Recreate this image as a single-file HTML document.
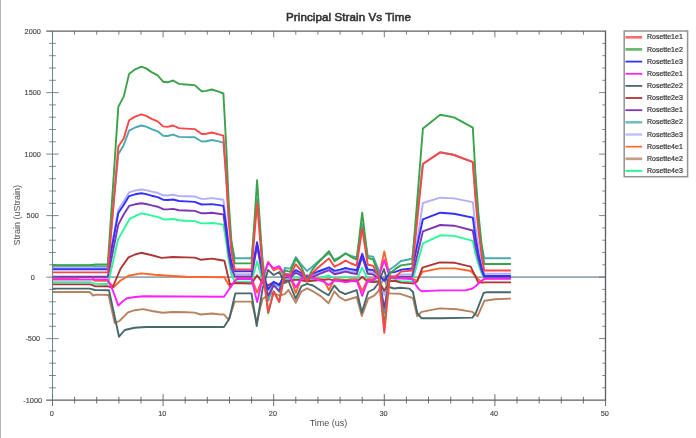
<!DOCTYPE html>
<html><head><meta charset="utf-8"><title>Principal Strain Vs Time</title>
<style>
html,body{margin:0;padding:0;background:#fff;}
body{width:696px;height:438px;overflow:hidden;font-family:"Liberation Sans",sans-serif;}
svg{display:block;filter:blur(0.7px);}
text{font-family:"Liberation Sans",sans-serif;fill:#333;}
.tk{font-size:7.3px;fill:#484848;stroke:#484848;stroke-width:0.15px;}
.lg{font-size:7px;fill:#303030;stroke:#303030;stroke-width:0.2px;}
.ttl{font-size:11.6px;fill:#333;stroke:#333;stroke-width:0.6px;letter-spacing:0.08px;}
.al{font-size:9px;fill:#505050;}
.curves polyline{fill:none;stroke-width:1.9;stroke-linejoin:round;stroke-linecap:butt;}
.ticks line{stroke:#687478;stroke-width:0.85;}
</style></head><body>
<svg width="696" height="438" viewBox="0 0 696 438">
<rect x="0" y="0" width="696" height="438" fill="#ffffff"/>
<rect x="0" y="0" width="1.0" height="438" fill="#b4b4b4"/>
<text x="348.5" y="21.2" text-anchor="middle" class="ttl">Principal Strain Vs Time</text>
<line x1="52.5" y1="277.1" x2="605.5" y2="277.1" stroke="#98a7af" stroke-width="1.9"/>
<g class="curves">
<polyline points="52.5,282.2 90.1,282.2 95.6,283.9 107.7,284.0 109.2,279.0 118.0,239.5 129.7,218.8 136.8,215.4 141.4,213.4 146.1,214.2 151.6,215.6 157.6,216.9 163.1,219.2 167.5,219.5 173.1,219.0 178.9,220.3 185.7,220.7 194.7,221.1 201.6,223.4 206.2,223.4 211.8,223.0 218.7,223.9 223.4,224.6 226.4,243.5 228.6,260.4 231.3,273.9 234.7,281.8 251.6,281.8 257.1,261.2 262.6,281.4 268.2,289.4 273.7,283.9 279.2,286.9 284.8,279.5 290.3,280.1 295.8,277.0 301.4,278.9 306.9,281.9 312.4,279.7 317.9,278.5 323.5,277.0 329.0,275.5 334.5,278.5 340.1,278.0 345.6,277.1 351.1,278.2 356.7,279.1 362.2,267.6 367.7,279.0 373.2,279.6 378.8,281.4 384.3,293.3 389.8,280.7 395.4,280.0 400.9,281.1 412.2,281.7 422.9,243.4 440.2,235.3 454.0,235.9 472.8,240.9 475.5,253.7 478.3,264.0 481.6,273.2 484.2,278.4 510.9,278.4" stroke="#2cf79a"/>
<polyline points="52.4,292.0 89.5,292.0 93.0,295.5 96.5,294.6 108.6,295.0 114.7,323.1 119.4,321.0 128.0,312.3 135.0,310.2 143.1,309.1 152.0,311.0 162.5,312.8 173.0,312.0 186.2,312.3 194.7,312.6 200.5,314.5 212.0,313.5 218.7,314.2 224.0,314.5 228.7,319.9 234.7,301.6 251.5,301.6 256.7,322.0 262.5,299.0 268.0,295.0 273.6,293.0 279.3,295.5 284.8,294.2 288.5,290.0 295.7,302.8 301.5,291.3 307.2,288.4 313.0,291.3 321.0,296.4 328.5,303.3 334.3,291.3 339.4,297.0 345.2,300.5 356.7,297.0 361.8,316.0 368.2,298.7 374.2,295.7 378.5,291.0 383.9,277.0 389.0,293.4 394.0,293.6 400.0,293.8 410.3,297.2 413.0,298.2 417.2,316.2 421.6,311.9 439.7,308.4 457.0,309.3 472.4,311.9 477.6,316.2 484.5,300.7 495.0,299.2 510.9,298.6" stroke="#b68260"/>
<polyline points="52.5,278.9 77.4,278.9 79.0,277.0 92.3,277.0 94.5,280.8 107.2,280.8 113.7,287.0 120.5,280.5 128.5,275.7 141.0,273.4 155.0,274.8 168.5,275.7 186.0,276.8 224.4,277.3 227.2,282.2 230.4,287.5 234.7,281.0 237.0,278.4 251.6,278.1 257.1,292.6 262.6,278.0 268.2,261.7 273.7,270.4 279.2,268.0 284.8,276.8 290.3,277.3 295.8,293.0 301.4,278.2 306.9,275.9 312.4,277.7 317.9,278.8 323.5,279.8 329.0,290.1 334.5,279.0 340.1,279.6 345.6,280.3 351.1,279.6 356.7,279.1 362.2,290.9 367.7,279.3 373.2,279.0 378.8,276.7 384.3,251.4 389.8,277.0 395.4,277.7 400.9,278.0 411.0,278.3 417.2,280.6 422.4,271.9 439.7,268.4 455.0,268.4 470.7,271.0 476.7,277.0 481.0,282.0 484.5,278.6 510.9,278.1" stroke="#ff6428"/>
<polyline points="52.5,267.3 90.1,267.3 95.6,267.3 107.8,267.3 118.3,209.7 123.8,201.2 129.1,192.3 135.1,190.5 141.4,189.5 146.1,190.1 151.6,191.6 157.6,192.8 163.1,195.3 167.5,195.5 173.1,194.8 178.9,196.1 185.7,196.3 194.7,196.5 201.6,198.9 206.2,198.7 211.8,198.1 218.7,199.0 223.4,199.7 226.4,224.3 228.6,246.2 231.3,263.8 234.7,274.1 251.6,274.1 257.1,245.1 262.6,274.4 268.2,290.4 273.7,282.8 279.2,286.4 284.8,275.6 290.3,276.2 295.8,271.7 301.4,274.5 306.9,279.1 312.4,275.5 317.9,273.2 323.5,271.2 329.0,269.1 334.5,272.7 340.1,271.6 345.6,270.1 351.1,271.4 356.7,272.4 362.2,256.1 367.7,271.9 373.2,272.5 378.8,277.4 384.3,294.9 389.8,276.8 395.4,275.3 400.9,274.5 412.2,274.2 422.9,203.0 440.2,197.7 454.0,198.4 472.8,202.1 475.5,226.7 478.3,246.4 481.6,263.9 484.2,273.8 510.9,273.8" stroke="#b0b0ff"/>
<polyline points="52.5,265.5 90.1,265.5 95.6,266.1 107.8,266.1 118.3,154.2 123.8,144.9 129.1,130.7 135.1,127.5 141.4,125.5 146.1,126.6 151.6,129.2 157.6,131.3 163.1,135.7 167.5,136.0 173.1,134.6 178.9,136.9 185.7,137.1 194.7,137.3 201.6,141.5 206.2,141.2 211.8,140.0 218.7,141.4 223.4,142.6 226.4,180.8 228.6,214.9 231.3,242.2 234.7,258.2 251.6,258.2 257.1,199.2 262.6,260.1 268.2,300.9 273.7,284.2 279.2,292.0 284.8,268.0 290.3,268.6 295.8,257.1 301.4,264.7 306.9,270.9 312.4,266.8 317.9,261.8 323.5,257.3 329.0,253.1 334.5,259.9 340.1,256.9 345.6,253.6 351.1,255.9 356.7,257.5 362.2,224.0 367.7,255.9 373.2,256.8 378.8,270.0 384.3,313.2 389.8,269.5 395.4,265.8 400.9,261.0 412.2,258.8 422.9,163.7 440.2,152.2 454.0,154.8 472.8,161.9 475.5,195.0 478.3,221.4 481.6,245.0 484.2,258.3 510.9,258.3" stroke="#4aaab0"/>
<polyline points="52.5,276.8 90.1,276.8 95.6,276.8 107.8,276.8 118.3,224.6 123.8,214.3 129.1,205.9 135.1,204.3 141.4,203.2 146.1,204.0 151.6,205.4 157.6,206.7 163.1,209.2 167.5,209.4 173.1,208.9 178.9,210.2 185.7,210.5 194.7,210.9 201.6,213.3 206.2,213.2 211.8,212.8 218.7,213.7 223.4,214.4 226.4,235.0 228.6,253.3 231.3,267.9 234.7,276.5 251.6,276.5 257.1,245.6 262.6,276.6 268.2,295.5 273.7,285.3 279.2,290.9 284.8,277.4 290.3,277.6 295.8,272.8 301.4,275.7 306.9,280.5 312.4,276.8 317.9,274.6 323.5,272.4 329.0,270.2 334.5,274.2 340.1,273.0 345.6,271.6 351.1,273.0 356.7,274.1 362.2,256.8 367.7,273.7 373.2,274.4 378.8,279.0 384.3,307.9 389.8,278.3 395.4,276.8 400.9,276.6 412.2,276.6 422.9,231.4 440.2,225.0 454.0,225.7 472.8,230.5 475.5,246.4 478.3,259.1 481.6,270.4 484.2,276.8 510.9,276.8" stroke="#7e35b5"/>
<polyline points="52.5,284.4 90.1,284.4 95.6,286.4 107.7,286.3 112.6,287.5 120.5,268.8 128.5,257.4 135.0,254.5 141.0,252.8 151.0,255.0 161.6,257.9 173.0,257.0 186.0,257.4 194.7,257.6 200.5,259.7 212.0,258.6 218.7,259.8 224.4,260.8 230.0,284.8 234.7,283.0 251.6,283.5 257.1,275.3 262.6,282.9 268.2,285.3 273.7,282.2 279.2,284.3 284.8,280.6 290.3,280.7 295.8,279.6 301.4,280.2 306.9,281.3 312.4,280.7 317.9,280.4 323.5,279.8 329.0,279.2 334.5,280.6 340.1,280.6 345.6,280.4 351.1,281.0 356.7,281.4 362.2,277.0 367.7,281.6 373.2,282.0 378.8,281.6 384.3,290.8 389.8,281.1 395.4,281.0 400.9,282.6 412.2,283.4 413.0,283.6 417.2,281.4 422.4,267.6 439.7,262.4 455.0,262.8 470.7,266.7 478.2,282.4 483.0,282.6 484.2,282.4 510.9,282.4" stroke="#ae3535"/>
<polyline points="52.4,288.6 89.5,288.6 95.0,290.0 109.0,290.3 119.0,336.7 124.8,330.0 134.5,327.8 146.3,327.0 224.0,327.0 229.3,318.8 235.3,293.4 251.5,293.4 256.7,326.0 262.5,289.0 268.0,270.0 273.6,275.0 279.3,272.0 284.8,283.0 288.5,281.0 295.7,298.7 301.5,286.1 307.2,283.8 313.0,285.5 321.0,290.7 328.5,295.3 334.3,285.5 339.4,291.3 345.2,294.1 356.7,290.1 361.8,312.5 368.2,292.0 374.0,289.0 378.5,283.0 383.9,269.0 389.0,287.0 394.0,288.5 400.0,287.8 409.5,288.6 413.0,292.0 417.2,312.8 421.6,318.3 440.0,318.3 472.4,317.6 475.9,312.8 483.6,293.0 487.0,292.2 510.9,292.2" stroke="#47696c"/>
<polyline points="52.5,279.5 90.1,279.5 95.6,279.5 107.7,279.4 113.0,291.0 118.3,305.6 122.5,301.5 127.0,298.3 135.0,297.0 143.0,296.3 224.0,296.8 231.3,286.0 234.7,281.0 237.5,279.0 251.6,278.9 257.1,302.1 262.6,278.7 268.2,262.9 273.7,268.5 279.2,266.2 284.8,274.3 290.3,277.5 295.8,287.2 301.4,278.9 306.9,275.2 312.4,278.1 317.9,279.8 323.5,281.5 329.0,285.0 334.5,280.2 340.1,281.1 345.6,282.3 351.1,281.2 356.7,280.4 362.2,295.8 367.7,280.8 373.2,280.3 378.8,276.5 384.3,260.1 389.8,277.0 395.4,278.2 400.9,278.6 412.0,279.0 417.2,286.9 419.5,290.0 422.4,291.3 440.0,290.4 465.5,290.4 472.4,288.5 476.0,286.0 480.2,281.7 484.0,279.0 484.2,278.9 510.9,278.9" stroke="#ff20ff"/>
<polyline points="52.5,269.2 90.1,269.2 95.6,269.2 107.8,269.2 118.3,213.0 123.8,204.7 129.1,196.1 135.1,194.3 141.4,193.3 146.1,194.1 151.6,195.7 157.6,197.1 163.1,199.7 167.5,200.0 173.1,199.5 178.9,201.0 185.7,201.4 194.7,201.9 201.6,204.5 206.2,204.4 211.8,204.1 218.7,205.1 223.4,205.9 226.4,227.5 228.6,246.8 231.3,262.2 234.7,271.2 251.6,271.2 257.1,242.3 262.6,271.8 268.2,289.3 273.7,281.7 279.2,285.2 284.8,274.2 290.3,274.7 295.8,270.1 301.4,273.0 306.9,277.6 312.4,273.9 317.9,271.5 323.5,269.5 329.0,267.4 334.5,270.9 340.1,269.6 345.6,268.0 351.1,269.3 356.7,270.2 362.2,253.8 367.7,269.5 373.2,270.1 378.8,275.3 384.3,280.8 389.8,272.8 395.4,271.9 400.9,269.8 412.2,268.5 422.9,219.3 440.2,212.7 454.0,213.8 472.8,217.6 475.5,237.7 478.3,253.7 481.6,267.9 484.2,276.0 510.9,276.0" stroke="#3030ff"/>
<polyline points="52.5,265.2 90.1,265.2 95.6,264.4 107.8,264.4 118.3,106.9 123.8,96.4 129.1,73.9 135.1,69.3 141.4,66.6 146.1,68.4 151.6,72.1 157.6,75.3 163.1,81.7 167.5,82.3 173.1,80.5 178.9,83.9 185.7,84.5 194.7,85.1 201.6,91.3 206.2,90.9 211.8,89.5 218.7,91.7 223.4,93.5 226.4,149.7 228.6,199.7 231.3,239.8 234.7,263.4 251.6,263.4 257.1,180.3 262.6,264.8 268.2,313.2 273.7,291.4 279.2,301.6 284.8,270.3 290.3,271.9 295.8,258.7 301.4,267.0 306.9,280.2 312.4,269.6 317.9,263.0 323.5,257.0 329.0,251.1 334.5,261.3 340.1,257.6 345.6,253.3 351.1,256.9 356.7,259.6 362.2,212.7 367.7,257.9 373.2,259.5 378.8,274.8 384.3,325.6 389.8,273.5 395.4,268.9 400.9,265.4 412.2,263.8 422.9,128.6 440.2,114.8 454.0,117.4 472.8,127.7 475.5,174.5 478.3,211.9 481.6,245.1 484.2,264.0 510.9,264.0" stroke="#3aa34a"/>
<polyline points="52.5,272.4 90.1,272.4 95.6,272.4 107.8,272.4 118.3,146.6 123.8,138.3 129.1,120.3 135.1,116.6 141.4,114.4 146.1,115.8 151.6,118.8 157.6,121.4 163.1,126.4 167.5,126.9 173.1,125.5 178.9,128.1 185.7,128.6 194.7,129.1 201.6,134.0 206.2,133.7 211.8,132.5 218.7,134.3 223.4,135.7 226.4,179.9 228.6,219.4 231.3,251.0 234.7,269.5 251.6,269.5 257.1,203.2 262.6,270.3 268.2,311.9 273.7,291.4 279.2,302.0 284.8,274.1 290.3,274.7 295.8,264.3 301.4,270.8 306.9,281.2 312.4,273.0 317.9,267.8 323.5,263.1 329.0,258.4 334.5,266.7 340.1,263.9 345.6,260.6 351.1,263.5 356.7,265.7 362.2,228.4 367.7,264.5 373.2,265.9 378.8,277.3 384.3,332.9 389.8,276.1 395.4,276.9 400.9,271.6 412.2,270.6 422.9,164.0 440.2,152.4 454.0,155.0 472.8,162.1 475.5,199.3 478.3,229.1 481.6,255.5 484.2,270.5 510.9,270.5" stroke="#ff4545"/>
</g>
<g class="ticks"><line x1="52.5" y1="394.1" x2="52.5" y2="406.1" style="stroke:#565656"/><line x1="52.5" y1="31.1" x2="52.5" y2="37.3" style="stroke:#606468"/><line x1="74.6" y1="396.8" x2="74.6" y2="403.5" style="stroke:#565656"/><line x1="74.6" y1="31.1" x2="74.6" y2="34.7" style="stroke:#606468"/><line x1="96.7" y1="396.8" x2="96.7" y2="403.5" style="stroke:#565656"/><line x1="96.7" y1="31.1" x2="96.7" y2="34.7" style="stroke:#606468"/><line x1="118.9" y1="396.8" x2="118.9" y2="403.5" style="stroke:#565656"/><line x1="118.9" y1="31.1" x2="118.9" y2="34.7" style="stroke:#606468"/><line x1="141.0" y1="396.8" x2="141.0" y2="403.5" style="stroke:#565656"/><line x1="141.0" y1="31.1" x2="141.0" y2="34.7" style="stroke:#606468"/><line x1="163.1" y1="394.1" x2="163.1" y2="406.1" style="stroke:#565656"/><line x1="163.1" y1="31.1" x2="163.1" y2="37.3" style="stroke:#606468"/><line x1="185.2" y1="396.8" x2="185.2" y2="403.5" style="stroke:#565656"/><line x1="185.2" y1="31.1" x2="185.2" y2="34.7" style="stroke:#606468"/><line x1="207.3" y1="396.8" x2="207.3" y2="403.5" style="stroke:#565656"/><line x1="207.3" y1="31.1" x2="207.3" y2="34.7" style="stroke:#606468"/><line x1="229.5" y1="396.8" x2="229.5" y2="403.5" style="stroke:#565656"/><line x1="229.5" y1="31.1" x2="229.5" y2="34.7" style="stroke:#606468"/><line x1="251.6" y1="396.8" x2="251.6" y2="403.5" style="stroke:#565656"/><line x1="251.6" y1="31.1" x2="251.6" y2="34.7" style="stroke:#606468"/><line x1="273.7" y1="394.1" x2="273.7" y2="406.1" style="stroke:#565656"/><line x1="273.7" y1="31.1" x2="273.7" y2="37.3" style="stroke:#606468"/><line x1="295.8" y1="396.8" x2="295.8" y2="403.5" style="stroke:#565656"/><line x1="295.8" y1="31.1" x2="295.8" y2="34.7" style="stroke:#606468"/><line x1="317.9" y1="396.8" x2="317.9" y2="403.5" style="stroke:#565656"/><line x1="317.9" y1="31.1" x2="317.9" y2="34.7" style="stroke:#606468"/><line x1="340.1" y1="396.8" x2="340.1" y2="403.5" style="stroke:#565656"/><line x1="340.1" y1="31.1" x2="340.1" y2="34.7" style="stroke:#606468"/><line x1="362.2" y1="396.8" x2="362.2" y2="403.5" style="stroke:#565656"/><line x1="362.2" y1="31.1" x2="362.2" y2="34.7" style="stroke:#606468"/><line x1="384.3" y1="394.1" x2="384.3" y2="406.1" style="stroke:#565656"/><line x1="384.3" y1="31.1" x2="384.3" y2="37.3" style="stroke:#606468"/><line x1="406.4" y1="396.8" x2="406.4" y2="403.5" style="stroke:#565656"/><line x1="406.4" y1="31.1" x2="406.4" y2="34.7" style="stroke:#606468"/><line x1="428.5" y1="396.8" x2="428.5" y2="403.5" style="stroke:#565656"/><line x1="428.5" y1="31.1" x2="428.5" y2="34.7" style="stroke:#606468"/><line x1="450.7" y1="396.8" x2="450.7" y2="403.5" style="stroke:#565656"/><line x1="450.7" y1="31.1" x2="450.7" y2="34.7" style="stroke:#606468"/><line x1="472.8" y1="396.8" x2="472.8" y2="403.5" style="stroke:#565656"/><line x1="472.8" y1="31.1" x2="472.8" y2="34.7" style="stroke:#606468"/><line x1="494.9" y1="394.1" x2="494.9" y2="406.1" style="stroke:#565656"/><line x1="494.9" y1="31.1" x2="494.9" y2="37.3" style="stroke:#606468"/><line x1="517.0" y1="396.8" x2="517.0" y2="403.5" style="stroke:#565656"/><line x1="517.0" y1="31.1" x2="517.0" y2="34.7" style="stroke:#606468"/><line x1="539.1" y1="396.8" x2="539.1" y2="403.5" style="stroke:#565656"/><line x1="539.1" y1="31.1" x2="539.1" y2="34.7" style="stroke:#606468"/><line x1="561.3" y1="396.8" x2="561.3" y2="403.5" style="stroke:#565656"/><line x1="561.3" y1="31.1" x2="561.3" y2="34.7" style="stroke:#606468"/><line x1="583.4" y1="396.8" x2="583.4" y2="403.5" style="stroke:#565656"/><line x1="583.4" y1="31.1" x2="583.4" y2="34.7" style="stroke:#606468"/><line x1="605.5" y1="394.1" x2="605.5" y2="406.1" style="stroke:#565656"/><line x1="605.5" y1="31.1" x2="605.5" y2="37.3" style="stroke:#606468"/><line x1="49.2" y1="387.8" x2="55.8" y2="387.8"/><line x1="602.3" y1="387.8" x2="605.5" y2="387.8"/><line x1="49.2" y1="375.5" x2="55.8" y2="375.5"/><line x1="602.3" y1="375.5" x2="605.5" y2="375.5"/><line x1="49.2" y1="363.2" x2="55.8" y2="363.2"/><line x1="602.3" y1="363.2" x2="605.5" y2="363.2"/><line x1="49.2" y1="350.9" x2="55.8" y2="350.9"/><line x1="602.3" y1="350.9" x2="605.5" y2="350.9"/><line x1="46.3" y1="338.6" x2="58.7" y2="338.6"/><line x1="599.0" y1="338.6" x2="605.5" y2="338.6"/><line x1="49.2" y1="326.3" x2="55.8" y2="326.3"/><line x1="602.3" y1="326.3" x2="605.5" y2="326.3"/><line x1="49.2" y1="314.0" x2="55.8" y2="314.0"/><line x1="602.3" y1="314.0" x2="605.5" y2="314.0"/><line x1="49.2" y1="301.8" x2="55.8" y2="301.8"/><line x1="602.3" y1="301.8" x2="605.5" y2="301.8"/><line x1="49.2" y1="289.4" x2="55.8" y2="289.4"/><line x1="602.3" y1="289.4" x2="605.5" y2="289.4"/><line x1="46.3" y1="277.1" x2="58.7" y2="277.1"/><line x1="599.0" y1="277.1" x2="605.5" y2="277.1"/><line x1="49.2" y1="264.8" x2="55.8" y2="264.8"/><line x1="602.3" y1="264.8" x2="605.5" y2="264.8"/><line x1="49.2" y1="252.5" x2="55.8" y2="252.5"/><line x1="602.3" y1="252.5" x2="605.5" y2="252.5"/><line x1="49.2" y1="240.2" x2="55.8" y2="240.2"/><line x1="602.3" y1="240.2" x2="605.5" y2="240.2"/><line x1="49.2" y1="227.9" x2="55.8" y2="227.9"/><line x1="602.3" y1="227.9" x2="605.5" y2="227.9"/><line x1="46.3" y1="215.6" x2="58.7" y2="215.6"/><line x1="599.0" y1="215.6" x2="605.5" y2="215.6"/><line x1="49.2" y1="203.3" x2="55.8" y2="203.3"/><line x1="602.3" y1="203.3" x2="605.5" y2="203.3"/><line x1="49.2" y1="191.0" x2="55.8" y2="191.0"/><line x1="602.3" y1="191.0" x2="605.5" y2="191.0"/><line x1="49.2" y1="178.7" x2="55.8" y2="178.7"/><line x1="602.3" y1="178.7" x2="605.5" y2="178.7"/><line x1="49.2" y1="166.4" x2="55.8" y2="166.4"/><line x1="602.3" y1="166.4" x2="605.5" y2="166.4"/><line x1="46.3" y1="154.1" x2="58.7" y2="154.1"/><line x1="599.0" y1="154.1" x2="605.5" y2="154.1"/><line x1="49.2" y1="141.8" x2="55.8" y2="141.8"/><line x1="602.3" y1="141.8" x2="605.5" y2="141.8"/><line x1="49.2" y1="129.5" x2="55.8" y2="129.5"/><line x1="602.3" y1="129.5" x2="605.5" y2="129.5"/><line x1="49.2" y1="117.2" x2="55.8" y2="117.2"/><line x1="602.3" y1="117.2" x2="605.5" y2="117.2"/><line x1="49.2" y1="104.9" x2="55.8" y2="104.9"/><line x1="602.3" y1="104.9" x2="605.5" y2="104.9"/><line x1="46.3" y1="92.6" x2="58.7" y2="92.6"/><line x1="599.0" y1="92.6" x2="605.5" y2="92.6"/><line x1="49.2" y1="80.3" x2="55.8" y2="80.3"/><line x1="602.3" y1="80.3" x2="605.5" y2="80.3"/><line x1="49.2" y1="68.0" x2="55.8" y2="68.0"/><line x1="602.3" y1="68.0" x2="605.5" y2="68.0"/><line x1="49.2" y1="55.7" x2="55.8" y2="55.7"/><line x1="602.3" y1="55.7" x2="605.5" y2="55.7"/><line x1="49.2" y1="43.4" x2="55.8" y2="43.4"/><line x1="602.3" y1="43.4" x2="605.5" y2="43.4"/></g>
<polyline points="46.2,31.1 605.5,31.1 605.5,400.1 46.2,400.1" fill="none" stroke="#606060" stroke-width="1.35"/>
<line x1="52.5" y1="31.1" x2="52.5" y2="400.1" stroke="#587880" stroke-width="0.9"/>
<text x="51.7" y="415.8" class="tk" text-anchor="middle">0</text><text x="162.3" y="415.8" class="tk" text-anchor="middle">10</text><text x="272.9" y="415.8" class="tk" text-anchor="middle">20</text><text x="383.5" y="415.8" class="tk" text-anchor="middle">30</text><text x="494.1" y="415.8" class="tk" text-anchor="middle">40</text><text x="604.7" y="415.8" class="tk" text-anchor="middle">50</text><text x="32.7" y="402.6" class="tk" text-anchor="middle">-1000</text><text x="32.7" y="341.1" class="tk" text-anchor="middle">-500</text><text x="32.7" y="279.6" class="tk" text-anchor="middle">0</text><text x="32.7" y="218.1" class="tk" text-anchor="middle">500</text><text x="32.7" y="156.6" class="tk" text-anchor="middle">1000</text><text x="32.7" y="95.1" class="tk" text-anchor="middle">1500</text><text x="32.7" y="33.6" class="tk" text-anchor="middle">2000</text>
<text x="328.5" y="426.2" text-anchor="middle" class="al">Time (us)</text>
<text transform="translate(19.6,215.2) rotate(-90)" text-anchor="middle" class="al">Strain (uStrain)</text>
<rect x="624.2" y="31.0" width="63.4" height="145.7" fill="#fff" stroke="#939393" stroke-width="1.5"/>
<line x1="625.4" y1="37.3" x2="642.2" y2="37.3" stroke="#ff4545" stroke-width="2.7" opacity="0.78"/><text x="647.0" y="39.4" class="lg">Rosette1e1</text><line x1="625.4" y1="49.4" x2="642.2" y2="49.4" stroke="#3aa34a" stroke-width="2.7" opacity="0.78"/><text x="647.0" y="51.5" class="lg">Rosette1e2</text><line x1="625.4" y1="61.6" x2="642.2" y2="61.6" stroke="#3030ff" stroke-width="1.8" opacity="1"/><text x="647.0" y="63.7" class="lg">Rosette1e3</text><line x1="625.4" y1="73.8" x2="642.2" y2="73.8" stroke="#ff20ff" stroke-width="1.8" opacity="1"/><text x="647.0" y="75.8" class="lg">Rosette2e1</text><line x1="625.4" y1="85.9" x2="642.2" y2="85.9" stroke="#47696c" stroke-width="1.8" opacity="1"/><text x="647.0" y="88.0" class="lg">Rosette2e2</text><line x1="625.4" y1="98.0" x2="642.2" y2="98.0" stroke="#ae3535" stroke-width="1.8" opacity="1"/><text x="647.0" y="100.1" class="lg">Rosette2e3</text><line x1="625.4" y1="110.2" x2="642.2" y2="110.2" stroke="#7e35b5" stroke-width="1.8" opacity="1"/><text x="647.0" y="112.3" class="lg">Rosette3e1</text><line x1="625.4" y1="122.3" x2="642.2" y2="122.3" stroke="#4aaab0" stroke-width="2.5" opacity="0.78"/><text x="647.0" y="124.4" class="lg">Rosette3e2</text><line x1="625.4" y1="134.5" x2="642.2" y2="134.5" stroke="#b0b0ff" stroke-width="2.5" opacity="0.78"/><text x="647.0" y="136.6" class="lg">Rosette3e3</text><line x1="625.4" y1="146.7" x2="642.2" y2="146.7" stroke="#ff6428" stroke-width="1.6" opacity="1"/><text x="647.0" y="148.8" class="lg">Rosette4e1</text><line x1="625.4" y1="158.8" x2="642.2" y2="158.8" stroke="#b68260" stroke-width="2.7" opacity="0.78"/><text x="647.0" y="160.9" class="lg">Rosette4e2</text><line x1="625.4" y1="170.9" x2="642.2" y2="170.9" stroke="#2cf79a" stroke-width="2.0" opacity="1"/><text x="647.0" y="173.0" class="lg">Rosette4e3</text>
</svg>
</body></html>
